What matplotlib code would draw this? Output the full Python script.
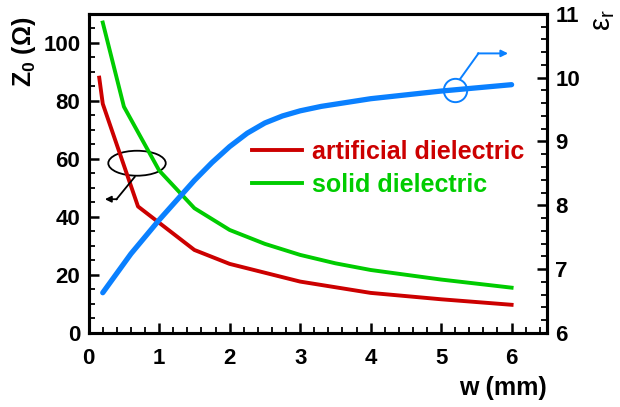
import matplotlib
matplotlib.use('Agg')
from matplotlib import pyplot as plt
from matplotlib.patches import Ellipse
from matplotlib.ticker import MultipleLocator

plt.rcParams['font.family'] = ['Liberation Sans', 'DejaVu Sans']
plt.rcParams['mathtext.fontset'] = 'custom'
plt.rcParams['mathtext.rm'] = 'Liberation Sans'
plt.rcParams['mathtext.bf'] = 'Liberation Sans:bold'

# impedance Z0 (ohm) vs strip width w (mm)
w_art = [0.15, 0.2, 0.7, 1.5, 2.0, 3.0, 4.0, 5.0, 6.0]
z_art = [88, 79, 43.6, 28.6, 23.8, 17.7, 13.8, 11.6, 9.7]

w_sol = [0.2, 0.5, 1.0, 1.5, 2.0, 2.5, 3.0, 3.5, 4.0, 5.0, 6.0]
z_sol = [107, 78, 56, 43, 35.5, 30.7, 26.9, 24.0, 21.7, 18.4, 15.6]

# effective permittivity of the artificial dielectric
w_eps = [0.2, 0.6, 1.0, 1.5, 1.75, 2.0, 2.25, 2.5, 2.75, 3.0, 3.3, 4.0, 5.0, 6.0]
eps_r = [6.63, 7.24, 7.77, 8.39, 8.67, 8.92, 9.13, 9.29, 9.40, 9.48, 9.55,
         9.67, 9.79, 9.89]

red = '#cc0000'
green = '#00cc00'
blue = '#0a80ff'

fig = plt.figure(figsize=(6.2, 4.07), dpi=100)
ax = fig.add_axes([0.143, 0.182, 0.739, 0.784])
ax2 = ax.twinx()

l1, = ax.plot(w_art, z_art, color=red, lw=2.8, label='artificial dielectric')
l2, = ax.plot(w_sol, z_sol, color=green, lw=2.8, label='solid dielectric')
ax2.plot(w_eps, eps_r, color=blue, lw=3.8, solid_capstyle='round',
         solid_joinstyle='round')

ax.set_xlim(0, 6.5)
ax.set_ylim(0, 110)
ax2.set_ylim(6, 11)

ax.xaxis.set_major_locator(MultipleLocator(1))
ax.xaxis.set_minor_locator(MultipleLocator(0.2))
ax.yaxis.set_major_locator(MultipleLocator(20))
ax.yaxis.set_minor_locator(MultipleLocator(5))
ax2.yaxis.set_major_locator(MultipleLocator(1))
ax2.yaxis.set_minor_locator(MultipleLocator(0.2))

for a in (ax, ax2):
    for s in a.spines.values():
        s.set_linewidth(2.2)
    a.tick_params(which='major', direction='in', length=7, width=1.8,
                  labelsize=16, pad=6)
    a.tick_params(which='minor', direction='in', length=4, width=1.3)
    for lab in a.get_xticklabels() + a.get_yticklabels():
        lab.set_fontweight('bold')
ax.tick_params(axis='x', which='major', pad=11)
ax.tick_params(top=False, right=False, which='both')
ax2.tick_params(left=False, which='both')

fig.text(0.038, 0.958, r'$\mathbf{Z_0}$ (Ω)', rotation=90,
         ha='center', va='top', fontsize=18, fontweight='bold')
fig.text(0.972, 0.978, r'$\mathrm{ε_r}$', rotation=90,
         ha='center', va='top', fontsize=21)
fig.text(0.882, 0.047, 'w (mm)', ha='right', va='center',
         fontsize=18, fontweight='bold')

leg = ax2.legend(handles=[l1, l2], loc='center left',
                 bbox_to_anchor=(0.356, 0.515), frameon=False,
                 borderpad=0, borderaxespad=0, handlelength=2.0,
                 handletextpad=0.4, labelspacing=0.35,
                 prop={'size': 18, 'weight': 'bold'}, labelcolor='linecolor')

# callouts pointing each curve to its axis
ax.add_patch(Ellipse((0.686, 58.5), 0.815, 8.6, fill=False, ec='black', lw=1.3))
ax.plot([0.654, 0.395], [53.8, 46.1], color='black', lw=1.3)
ax.annotate('', xy=(0.23, 46.1), xytext=(0.40, 46.1),
            arrowprops=dict(arrowstyle='-|>', color='black', lw=1.3,
                            mutation_scale=9, shrinkA=0, shrinkB=0))

ax2.plot([5.2], [9.8], marker='o', ms=16.8, mfc='none', mec=blue, mew=1.4)
ax2.plot([5.27, 5.53], [9.98, 10.38], color=blue, lw=1.4)
ax2.annotate('', xy=(5.95, 10.38), xytext=(5.52, 10.38),
             arrowprops=dict(arrowstyle='-|>', color=blue, lw=1.4,
                             mutation_scale=10, shrinkA=0, shrinkB=0))

fig.savefig('out.png', dpi=100)
